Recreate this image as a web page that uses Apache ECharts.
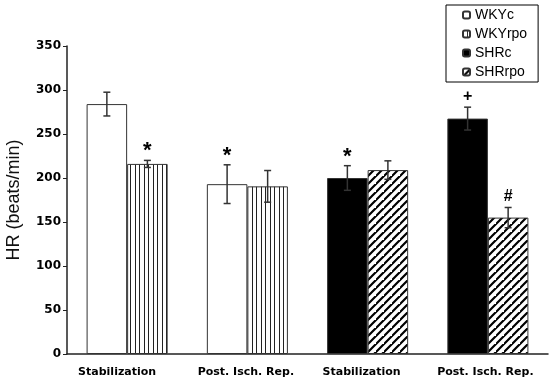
<!DOCTYPE html>
<html>
<head>
<meta charset="utf-8">
<script src="https://cdn.jsdelivr.net/npm/echarts@6/dist/echarts.min.js"></script>
<style>html,body{margin:0;padding:0;background:#fff;}#c{width:550px;height:384px;}</style>
</head>
<body>
<div id="c"></div>
<script>
// ---- data ----
const categories = ['Stabilization', 'Post. Isch. Rep.', 'Stabilization', 'Post. Isch. Rep.'];
const seriesNames = ['WKYc', 'WKYrpo', 'SHRc', 'SHRrpo'];
const WKYc = [284, 193, '-', '-'];
const WKYc_err = [13.5, 22, 0, 0];
const WKYrpo = [216, 190.5, '-', '-'];
const WKYrpo_err = [4, 18, 0, 0];
const SHRc = ['-', '-', 200, 267.5];
const SHRc_err = [0, 0, 14, 13];
const SHRrpo = ['-', '-', 209, 155];
const SHRrpo_err = [0, 0, 10.5, 11.5];
const marks_c = ['', '*', '*', '+'];
const marks_rpo = ['*', '', '', '#'];
const yTicks = [0, 50, 100, 150, 200, 250, 300, 350];

// ---- patterns ----
function vStripes() {
  const c = document.createElement('canvas'); c.width = 9; c.height = 9;
  const g = c.getContext('2d');
  g.fillStyle = '#fff'; g.fillRect(0, 0, 9, 9);
  g.fillStyle = '#222'; g.fillRect(0, 0, 1, 9); g.fillRect(4, 0, 1, 9);
  return c;
}
function dStripes() {
  const s = 8;
  const c = document.createElement('canvas'); c.width = s; c.height = s;
  const g = c.getContext('2d');
  g.fillStyle = '#fff'; g.fillRect(0, 0, s, s);
  g.strokeStyle = '#000'; g.lineWidth = 2.2; g.lineCap = 'square';
  g.beginPath();
  g.moveTo(-2, s + 2); g.lineTo(s + 2, -2);
  g.moveTo(-2 - s, s + 2); g.lineTo(2, -2);
  g.moveTo(s - 2, 2 * s + 2); g.lineTo(2 * s + 2, s - 2);
  g.stroke();
  return c;
}
const fills = ['#fff', { image: vStripes(), repeat: 'repeat' }, '#000', { image: dStripes(), repeat: 'repeat' }];
const values = [WKYc, WKYrpo, SHRc, SHRrpo];
const errs = [WKYc_err, WKYrpo_err, SHRc_err, SHRrpo_err];
const stacks = ['c', 'r', 'c', 'r'];
const BAR_FRAC = 0.337;

const series = seriesNames.map((n, i) => ({
  name: n, type: 'bar', stack: stacks[i], data: values[i],
  barWidth: (BAR_FRAC * 100) + '%', barGap: '0%',
  itemStyle: { color: fills[i], borderColor: '#333', borderWidth: 1 },
  emphasis: { disabled: true }
}));

// error bars + significance marks
const errData = [];
const errMarks = [];
for (let si = 0; si < 4; si++) {
  for (let ci = 0; ci < categories.length; ci++) {
    const v = values[si][ci];
    if (v === '-') continue;
    const slot = stacks[si] === 'c' ? 0 : 1;
    errData.push([ci, v, errs[si][ci], slot]);
    errMarks.push(slot === 0 ? marks_c[ci] : marks_rpo[ci]);
  }
}
series.push({
  type: 'custom', silent: true, z: 5,
  data: errData,
  renderItem: function (params, api) {
    const ci = api.value(0), m = api.value(1), e = api.value(2), slot = api.value(3);
    const band = api.size([1, 0])[0];
    const off = (slot === 0 ? -1 : 1) * band * BAR_FRAC / 2;
    const t = api.coord([ci, m + e]);
    const b = api.coord([ci, m - e]);
    const x = t[0] + off;
    const cap = 3.5;
    const st = { stroke: '#333', lineWidth: 1.5 };
    const children = [
      { type: 'line', shape: { x1: x, y1: t[1], x2: x, y2: b[1] }, style: st },
      { type: 'line', shape: { x1: x - cap, y1: t[1], x2: x + cap, y2: t[1] }, style: st },
      { type: 'line', shape: { x1: x - cap, y1: b[1], x2: x + cap, y2: b[1] }, style: st }
    ];
    const mk = errMarks[params.dataIndex];
    if (mk) {
      const isStar = mk === '*';
      children.push({
        type: 'text',
        style: {
          text: mk, x: x, y: t[1] - (isStar ? 2 : 3),
          textAlign: 'center', textVerticalAlign: isStar ? 'top' : 'bottom',
          font: isStar ? 'bold 22px "Liberation Sans", Arial' : 'bold 16px "Liberation Sans", Arial',
          fill: '#000'
        },
        position: [0, isStar ? -18 : 0]
      });
    }
    return { type: 'group', children: children };
  }
});

// label nudges (shift left) per category, styling only
const labelShift = [20, 3, 12, 5];
const rich = {};
labelShift.forEach((p, i) => {
  rich['s' + i] = { fontFamily: 'DejaVu Sans', fontWeight: 'bold', fontSize: 11, color: '#000', padding: [0, p, 0, 0] };
});

const chart = echarts.init(document.getElementById('c'), null, { renderer: 'canvas' });
chart.setOption({
  animation: false,
  backgroundColor: '#fff',
  grid: { left: 67, right: 2, top: 46, bottom: 30, containLabel: false, outerBoundsMode: 'none' },
  legend: {
    orient: 'vertical', left: 446, top: 5,
    padding: [3, 11, 3, 16],
    itemWidth: 7, itemHeight: 7, itemGap: 5, itemTextGap: 5,
    borderColor: '#000', borderWidth: 1,
    data: seriesNames,
    selectedMode: false,
    textStyle: { fontFamily: '"Liberation Sans"', fontSize: 14, lineHeight: 14, color: '#000' }
  },
  xAxis: {
    type: 'category', data: categories,
    axisLine: { lineStyle: { color: '#222', width: 1.5 } },
    axisTick: { show: false },
    axisLabel: {
      fontFamily: 'DejaVu Sans', fontWeight: 'bold', fontSize: 11, color: '#000', margin: 13, interval: 0,
      formatter: function (v, i) { return '{s' + i + '|' + v + '}'; },
      rich: rich
    }
  },
  yAxis: {
    type: 'value', min: yTicks[0], max: yTicks[yTicks.length - 1], interval: 50,
    name: 'HR (beats/min)', nameLocation: 'middle', nameGap: 44,
    nameTextStyle: { fontFamily: '"Liberation Sans"', fontSize: 18, color: '#111' },
    axisLine: { show: true, lineStyle: { color: '#222', width: 1.5 } },
    axisTick: { show: true, length: 4, lineStyle: { color: '#222' } },
    splitLine: { show: false },
    axisLabel: { fontFamily: 'DejaVu Sans', fontWeight: 'bold', fontSize: 12, color: '#000', margin: 6 }
  },
  series: series
});
</script>
</body>
</html>
